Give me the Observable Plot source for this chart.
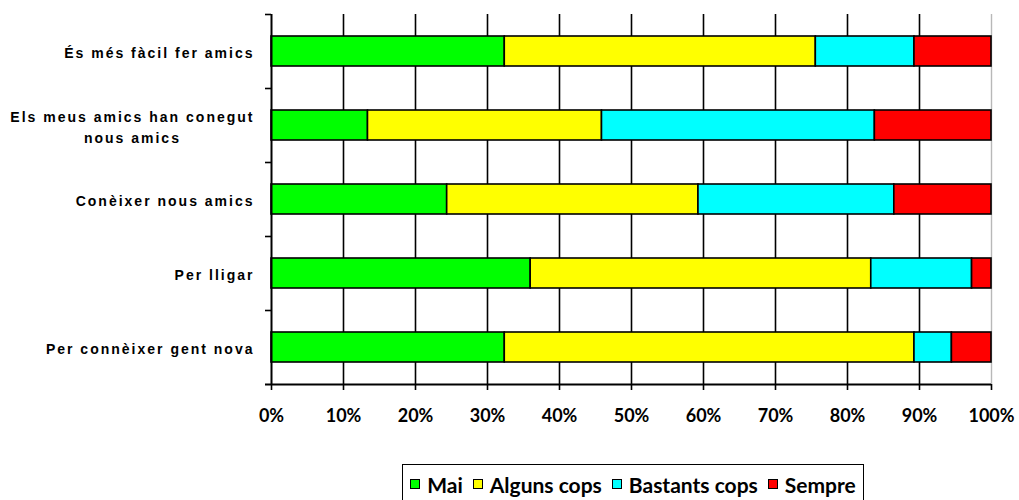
<!DOCTYPE html>
<html><head><meta charset="utf-8">
<script src="https://cdn.jsdelivr.net/npm/d3@7"></script>
<script src="https://cdn.jsdelivr.net/npm/@observablehq/plot@0.6"></script>
<style>
body{margin:0;background:#fff;}
#wrap{position:relative;width:1019px;height:500px;overflow:hidden;background:#fff;}
#legend{position:absolute;left:402px;top:464px;width:462px;height:40px;border:1px solid #000;box-sizing:border-box;display:flex;align-items:center;justify-content:center;font-family:Lato,"Open Sans",sans-serif;font-weight:bold;font-size:21px;color:#000;}
#legend .item{display:flex;align-items:center;margin:0 5px;}
#legend .sw{display:inline-block;width:8px;height:8px;border:1px solid #000;margin-right:7px;}
g[aria-label="y-axis tick label"] text{letter-spacing:2px;}
</style>
</head><body>
<div id="wrap"><div id="chart"></div><div id="legend"></div></div>
<script>
const categories = ["És més fàcil fer amics", "Els meus amics han conegut\nnous amics", "Conèixer nous amics", "Per lligar", "Per connèixer gent nova"];
const series = ["Mai", "Alguns cops", "Bastants cops", "Sempre"];
const mai      = [32.4, 13.4, 24.4, 36.0, 32.4];
const alguns   = [43.2, 32.5, 34.9, 47.3, 56.9];
const bastants = [13.7, 37.9, 27.2, 14.0, 5.2];
const sempre   = [10.7, 16.2, 13.5, 2.7, 5.5];
const colors = ["#00FF00", "#FFFF00", "#00FFFF", "#FF0000"];
const xTicks = [0, 10, 20, 30, 40, 50, 60, 70, 80, 90, 100];

const seriesValues = [mai, alguns, bastants, sempre];
const rows = [];
categories.forEach((c, i) => series.forEach((s, j) => rows.push({cat: c, serie: s, value: seriesValues[j][i]})));

const W = 1019, H = 440, mT = 14, mB = 56, mL = 271, mR = 28;
const plotW = W - mL - mR;
const half = (H - mT - mB) / categories.length / 2;

const chart = Plot.plot({
  width: W, height: H,
  marginTop: mT, marginBottom: mB, marginLeft: mL, marginRight: mR,
  x: {domain: [0, 100], ticks: xTicks, label: null},
  y: {domain: categories, padding: 0, label: null},
  color: {domain: series, range: colors},
  style: {background: "#fff"},
  marks: [
    Plot.ruleX(xTicks.filter(d => d > 0 && d < 100), {stroke: "#000", strokeWidth: 1.6}),
    Plot.ruleX([100], {stroke: "#b8b8b8", strokeWidth: 1.4}),
    Plot.barX(rows, Plot.stackX({x: "value", y: "cat", fill: "serie", order: series, stroke: "#000", strokeWidth: 1.6, insetTop: 22, insetBottom: 22})),
    Plot.ruleY(categories, {dy: -half, insetLeft: -6, insetRight: plotW, stroke: "#000", strokeWidth: 1.6}),
    Plot.ruleY([categories[categories.length - 1]], {dy: half, insetLeft: -6, stroke: "#000", strokeWidth: 1.8}),
    Plot.ruleX([0], {stroke: "#000", strokeWidth: 2}),
    Plot.axisX({ticks: xTicks, label: null, tickSize: 6, tickPadding: 19, tickFormat: d => d + "%", fontFamily: "Lato, 'Open Sans', sans-serif", fontWeight: "bold", fontSize: 18, stroke: "#000", strokeWidth: 1.6, fill: "#000"}),
    Plot.axisY({label: null, tickSize: 0, tickPadding: 17, fontFamily: "'Liberation Sans', Arial, sans-serif", fontWeight: "bold", fontSize: 14, lineHeight: 1.5, fill: "#000"})
  ]
});
document.getElementById("chart").appendChild(chart);

// center the lines of multi-line labels within their block
chart.querySelectorAll('g[aria-label="y-axis tick label"] text').forEach(t => {
  const spans = t.querySelectorAll("tspan");
  if (spans.length > 1) {
    const w = t.getBBox().width;
    t.setAttribute("text-anchor", "middle");
    spans.forEach(s => s.setAttribute("x", -w / 2));
  }
});

const legend = document.getElementById("legend");
series.forEach((s, j) => {
  const it = document.createElement("span");
  it.className = "item";
  const sw = document.createElement("span");
  sw.className = "sw";
  sw.style.background = colors[j];
  it.appendChild(sw);
  it.appendChild(document.createTextNode(s));
  legend.appendChild(it);
});
</script>
</body></html>
